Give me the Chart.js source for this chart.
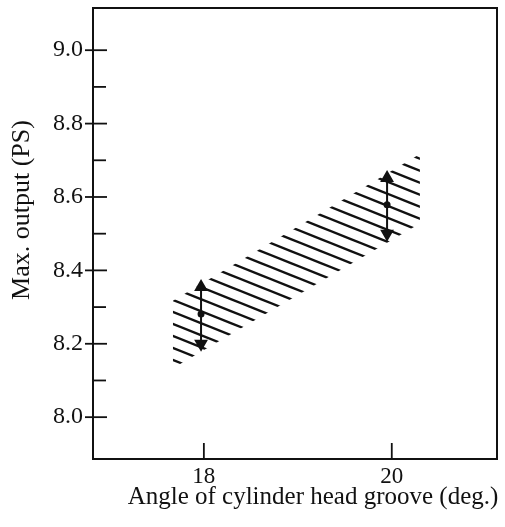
<!DOCTYPE html>
<html>
<head>
<meta charset="utf-8">
<script src="https://cdn.jsdelivr.net/npm/chart.js@4/dist/chart.umd.min.js"></script>
<style>
  html, body { margin: 0; padding: 0; background: #fff; }
  #wrap { width: 505px; height: 527px; }
</style>
</head>
<body>
<div id="wrap"><canvas id="chart"></canvas></div>
<script>
// Rangos de los ejes
const xRange = [16.82, 21.12];
const yRange = [7.886, 9.115];
const xTickValues = [18, 20];
const yTickValues = [8.0, 8.1, 8.2, 8.3, 8.4, 8.5, 8.6, 8.7, 8.8, 8.9, 9.0];
const yTickLabels = ['8.0', '', '8.2', '', '8.4', '', '8.6', '', '8.8', '', '9.0'];
const xTitle = 'Angle of cylinder head groove (deg.)';
const yTitle = 'Max. output (PS)';

// Banda rayada (bordes)
const bandX = [17.67, 20.30];
const bandUpper = [8.317, 8.717];
const bandLower = [8.133, 8.528];

// Medidas: máximo, medio, mínimo
const groupX = [17.97, 19.95];
const maxVals = [8.355, 8.652];
const meanVals = [8.281, 8.579];
const minVals = [8.200, 8.500];

const ink = '#111';
const serif = '"Liberation Serif", "DejaVu Serif", serif';

// Patrón de rayas diagonales
function makeHatch() {
    const c = document.createElement('canvas');
    c.width = 30; c.height = 12;
    const g = c.getContext('2d');
    g.strokeStyle = ink;
    g.lineWidth = 2.4;
    for (let k = -2; k <= 2; k++) {
        g.beginPath();
        g.moveTo(-30, -12 + 2.8 + 12 * k);
        g.lineTo(60, 24 + 2.8 + 12 * k);
        g.stroke();
    }
    return document.getElementById('chart').getContext('2d').createPattern(c, 'repeat');
}

// Marco, marcas de los ejes y títulos
const framePlugin = {
    id: 'frame',
    afterDatasetsDraw(chart) {
        const { ctx, chartArea: a, scales } = chart;
        ctx.save();
        ctx.strokeStyle = ink;
        ctx.lineWidth = 2;
        ctx.strokeRect(a.left, a.top, a.right - a.left, a.bottom - a.top);
        ctx.lineWidth = 1.8;
        scales.y.ticks.forEach((t, i) => {
            const py = scales.y.getPixelForValue(t.value);
            ctx.beginPath();
            if (yTickLabels[i]) {
                ctx.moveTo(a.left - 8, py);
                ctx.lineTo(a.left + 14, py);
            } else {
                ctx.moveTo(a.left, py);
                ctx.lineTo(a.left + 13, py);
            }
            ctx.stroke();
        });
        scales.x.ticks.forEach(t => {
            const px = scales.x.getPixelForValue(t.value);
            ctx.beginPath();
            ctx.moveTo(px, a.bottom);
            ctx.lineTo(px, a.bottom - 16);
            ctx.stroke();
        });

        ctx.fillStyle = ink;
        ctx.font = '25px ' + serif;
        ctx.textAlign = 'center';
        ctx.textBaseline = 'alphabetic';
        ctx.fillText(xTitle, 313, 504);

        ctx.font = '26px ' + serif;
        ctx.textBaseline = 'middle';
        ctx.translate(22, 210);
        ctx.rotate(-Math.PI / 2);
        ctx.fillText(yTitle, 0, 0);
        ctx.restore();
    }
};

const datasets = [
    {
        data: bandX.map((x, i) => ({ x, y: bandLower[i] })),
        borderWidth: 0,
        pointRadius: 0,
        fill: false
    },
    {
        data: bandX.map((x, i) => ({ x, y: bandUpper[i] })),
        borderWidth: 0,
        pointRadius: 0,
        backgroundColor: makeHatch(),
        fill: '-1'
    }
];

groupX.forEach((x, i) => {
    datasets.push({
        data: [
            { x, y: maxVals[i] },
            { x, y: meanVals[i] },
            { x, y: minVals[i] }
        ],
        borderColor: ink,
        borderWidth: 2,
        backgroundColor: ink,
        pointBorderColor: ink,
        pointBackgroundColor: ink,
        pointStyle: ['triangle', 'circle', 'triangle'],
        rotation: [0, 0, 180],
        pointRadius: [6, 2.5, 6],
        fill: false
    });
});

new Chart(document.getElementById('chart'), {
    type: 'scatter',
    data: { datasets },
    options: {
        responsive: true,
        maintainAspectRatio: false,
        animation: false,
        showLine: true,
        layout: { padding: { top: 5, right: 8, left: 0, bottom: 0 } },
        plugins: {
            legend: { display: false },
            tooltip: { enabled: false }
        },
        scales: {
            x: {
                type: 'linear',
                min: xRange[0],
                max: xRange[1],
                afterBuildTicks: s => { s.ticks = xTickValues.map(v => ({ value: v })); },
                afterFit: s => {
                    s.height = 68;
                    s.paddingLeft = 0;
                    s.paddingRight = 0;
                },
                grid: { display: false },
                border: { display: false },
                ticks: {
                    color: ink,
                    padding: -4,
                    font: { family: serif, size: 23 },
                    callback: v => String(v)
                }
            },
            y: {
                min: yRange[0],
                max: yRange[1],
                afterBuildTicks: s => { s.ticks = yTickValues.map(v => ({ value: v })); },
                afterFit: s => {
                    s.width = 93;
                    s.paddingTop = 0;
                    s.paddingBottom = 0;
                },
                grid: { display: false },
                border: { display: false },
                ticks: {
                    color: ink,
                    padding: 2,
                    font: { family: serif, size: 24 },
                    callback: (v, i) => yTickLabels[i]
                }
            }
        }
    },
    plugins: [framePlugin]
});
</script>
</body>
</html>
